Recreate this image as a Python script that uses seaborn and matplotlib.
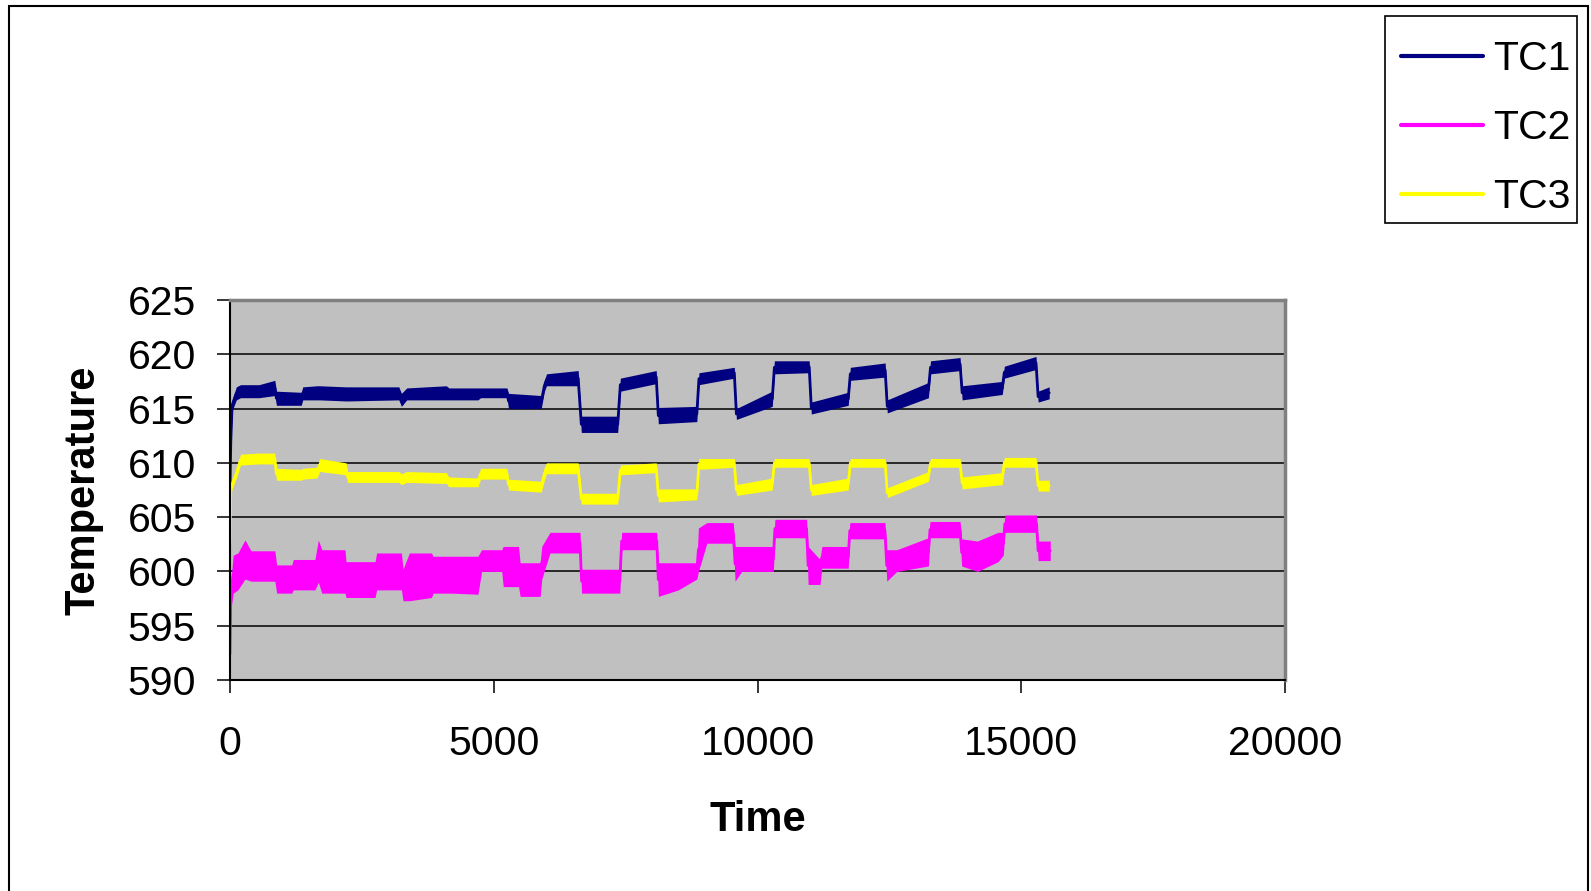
import matplotlib
matplotlib.use("Agg")
import matplotlib.pyplot as plt
from matplotlib.patches import Rectangle
import pandas as pd
import seaborn as sns

# sample times for TC1 / TC3; every reading is the lower and upper edge of the noisy band
time = [0, 15, 40, 120, 200, 550, 850, 880, 1350, 1380, 1650, 1700, 2200, 2230,
        3200, 3250, 3350, 4100, 4150, 4700, 4750, 5250, 5280, 5900, 5960, 6000,
        6600, 6660, 7350, 7400, 8080, 8120, 8850, 8890, 9560, 9600, 10280, 10320,
        10980, 11020, 11720, 11760, 12420, 12460, 13240, 13280, 13840, 13880,
        14640, 14680, 15280, 15320, 15530]

tc1_low = [607.5, 611.5, 614.8, 615.8, 616.0, 616.0, 616.2, 615.3, 615.3, 615.8,
           615.8, 615.8, 615.7, 615.7, 615.8, 615.2, 615.8, 615.8, 615.8, 615.8,
           616.0, 616.0, 615.0, 615.0, 616.6, 617.1, 617.1, 612.8, 612.8, 616.6,
           617.3, 613.6, 613.8, 617.2, 617.8, 614.0, 615.2, 618.2, 618.3, 614.5,
           615.3, 617.6, 617.9, 614.6, 616.0, 618.2, 618.5, 615.8, 616.3, 617.8,
           618.6, 615.6, 615.9]
tc1_high = [608.5, 612.5, 615.8, 617.0, 617.2, 617.2, 617.6, 616.6, 616.5, 617.0,
            617.1, 617.1, 617.0, 617.0, 617.0, 616.4, 616.9, 617.1, 616.9, 616.9,
            616.9, 616.9, 616.4, 616.2, 617.6, 618.2, 618.5, 614.3, 614.3, 617.8,
            618.5, 615.1, 615.2, 618.3, 618.8, 615.0, 616.6, 619.4, 619.4, 615.6,
            616.5, 618.8, 619.2, 615.8, 617.4, 619.4, 619.7, 617.1, 617.5, 618.9,
            619.8, 616.6, 617.0]

tc3_low = [602.3, 607.2, 607.6, 608.6, 609.8, 609.9, 609.9, 608.4, 608.4, 608.5,
           608.6, 609.2, 608.9, 608.2, 608.2, 608.0, 608.2, 608.1, 607.8, 607.8,
           608.5, 608.5, 607.5, 607.3, 608.4, 609.0, 609.0, 606.2, 606.2, 608.9,
           609.1, 606.4, 606.6, 609.4, 609.6, 607.0, 607.5, 609.6, 609.6, 607.0,
           607.5, 609.6, 609.6, 606.8, 608.3, 609.6, 609.6, 607.6, 608.0, 609.6,
           609.6, 607.4, 607.4]
tc3_high = [603.0, 608.0, 608.5, 609.4, 610.8, 610.9, 610.9, 609.5, 609.4, 609.5,
            609.6, 610.4, 610.0, 609.2, 609.2, 609.0, 609.2, 609.1, 608.7, 608.6,
            609.5, 609.5, 608.5, 608.3, 609.6, 610.0, 610.0, 607.2, 607.2, 609.8,
            610.0, 607.6, 607.6, 610.4, 610.4, 608.0, 608.6, 610.4, 610.4, 608.0,
            608.6, 610.4, 610.4, 607.7, 609.2, 610.4, 610.4, 608.7, 609.1, 610.5,
            610.5, 608.4, 608.4]

# TC2 is noisier, so it gets its own finer set of readings
tc2_time = [0, 15, 60, 150, 284, 400, 850, 885, 1170, 1200, 1610, 1675, 1740, 2180,
            2200, 2750, 2780, 3250, 3280, 3400, 3820, 3850, 4200, 4700, 4770, 5150,
            5180, 5470, 5500, 5880, 5910, 6066, 6635, 6665, 7390, 7425, 8090, 8120,
            8500, 8850, 8880, 9040, 9540, 9575, 9700, 10300, 10330, 10930, 10960,
            11185, 11220, 11720, 11750, 12416, 12450, 12640, 13240, 13270, 13840,
            13870, 14170, 14560, 14660, 14690, 15290, 15320, 15550]
tc2_low = [591.8, 596.5, 598.0, 598.3, 599.3, 599.1, 599.1, 598.0, 598.0, 598.3,
           598.3, 599.0, 598.0, 598.0, 597.6, 597.6, 598.3, 598.3, 597.3, 597.3,
           597.6, 598.0, 598.0, 597.9, 600.0, 600.0, 598.6, 598.6, 597.7, 597.7,
           599.3, 601.7, 601.7, 598.0, 598.0, 602.0, 602.0, 597.7, 598.3, 599.3,
           600.0, 602.6, 602.6, 599.1, 600.0, 600.0, 603.1, 603.1, 598.8, 598.8,
           600.3, 600.3, 603.0, 603.0, 599.1, 600.0, 600.5, 603.1, 603.1, 600.5,
           600.0, 600.9, 601.5, 603.6, 603.6, 601.0, 601.0]
tc2_high = [593.0, 599.0, 601.5, 601.7, 602.9, 601.9, 601.9, 600.6, 600.6, 601.1,
            601.1, 602.9, 602.0, 602.0, 600.9, 600.9, 601.7, 601.7, 600.2, 601.7,
            601.7, 601.4, 601.4, 601.4, 602.0, 602.0, 602.3, 602.3, 600.8, 600.8,
            602.3, 603.6, 603.6, 600.2, 600.2, 603.6, 603.6, 600.8, 600.8, 600.8,
            604.0, 604.5, 604.5, 602.3, 602.3, 602.3, 604.8, 604.8, 602.3, 601.1,
            602.3, 602.3, 604.5, 604.5, 602.0, 602.0, 603.1, 604.6, 604.6, 603.0,
            602.8, 603.6, 603.6, 605.2, 605.2, 602.8, 602.8]

series_names = ["TC1", "TC2", "TC3"]
series_colors = ["#000080", "#FF00FF", "#FFFF00"]
y_ticks = [590, 595, 600, 605, 610, 615, 620, 625]
x_ticks = [0, 5000, 10000, 15000, 20000]

sns.set_style("white")
plt.rcParams["font.family"] = ["Liberation Sans", "DejaVu Sans"]
plt.rcParams["text.color"] = "black"
plt.rcParams["axes.labelcolor"] = "black"
plt.rcParams["xtick.color"] = "black"
plt.rcParams["ytick.color"] = "black"

readings = [
    ("TC1", time, tc1_low, tc1_high),
    ("TC2", tc2_time, tc2_low, tc2_high),
    ("TC3", time, tc3_low, tc3_high),
]
frames = []
for name, t, lo, hi in readings:
    frames.append(pd.DataFrame({"Time": t + t, "Temperature": lo + hi, "series": name}))
df = pd.concat(frames, ignore_index=True)

W, H = 1591, 891
fig = plt.figure(figsize=(W / 100, H / 100), dpi=100)
ax = fig.add_axes([230 / W, (H - 680) / H, 1055 / W, 380 / H])
ax.set_facecolor("#C0C0C0")

sns.lineplot(data=df, x="Time", y="Temperature", hue="series", hue_order=series_names,
             palette=dict(zip(series_names, series_colors)), estimator="mean",
             errorbar=("pi", 100), err_kws={"alpha": 1, "linewidth": 0},
             linewidth=2.0, ax=ax)

ax.set_xlim(0, 20000)
ax.set_ylim(590, 625)
ax.set_xticks(x_ticks)
ax.set_yticks(y_ticks)
ax.yaxis.grid(True, color="black", linewidth=1.1)
ax.xaxis.grid(False)
ax.set_axisbelow(True)

for side in ["top", "right"]:
    ax.spines[side].set_color("#808080")
    ax.spines[side].set_linewidth(2.5)
for side in ["left", "bottom"]:
    ax.spines[side].set_color("black")
    ax.spines[side].set_linewidth(1.5)

ax.tick_params(axis="both", direction="out", length=9.4, width=1.1, color="black",
               labelsize=29.5, labelcolor="black")
ax.tick_params(axis="y", pad=15, left=True)
ax.tick_params(axis="x", pad=23, bottom=True)

ax.set_xlabel("Time", fontsize=30, fontweight="bold", va="center")
ax.set_ylabel("Temperature", fontsize=30, fontweight="bold", va="center")
ax.xaxis.set_label_coords(0.5, (680 - 820) / 380)
ax.yaxis.set_label_coords((83 - 230) / 1055, 0.5)

# legend to the upper right, outside the plot area, with its own box
leg = ax.get_legend()
handles = leg.legend_handles
labels = [t.get_text() for t in leg.get_texts()]
leg.remove()
for h in handles:
    h.set_linewidth(3)
fig.add_artist(Rectangle((1385 / W, (H - 223) / H), 192 / W, 207 / H,
                         transform=fig.transFigure, facecolor="white",
                         edgecolor="black", linewidth=1.2))
fig.legend(handles, labels, loc="upper left", bbox_to_anchor=(1401 / W, 1 - 40.5 / H),
           bbox_transform=fig.transFigure, frameon=False, fontsize=29.5,
           handlelength=2.0, handletextpad=0.25, labelspacing=0.75, borderpad=0,
           borderaxespad=0)

# outer chart frame
fig.add_artist(Rectangle((9 / W, -0.1), (1588 - 9) / W, (H - 6) / H + 0.1,
                         transform=fig.transFigure, fill=False, edgecolor="black",
                         linewidth=1.5))

fig.savefig("out.png", dpi=100)
